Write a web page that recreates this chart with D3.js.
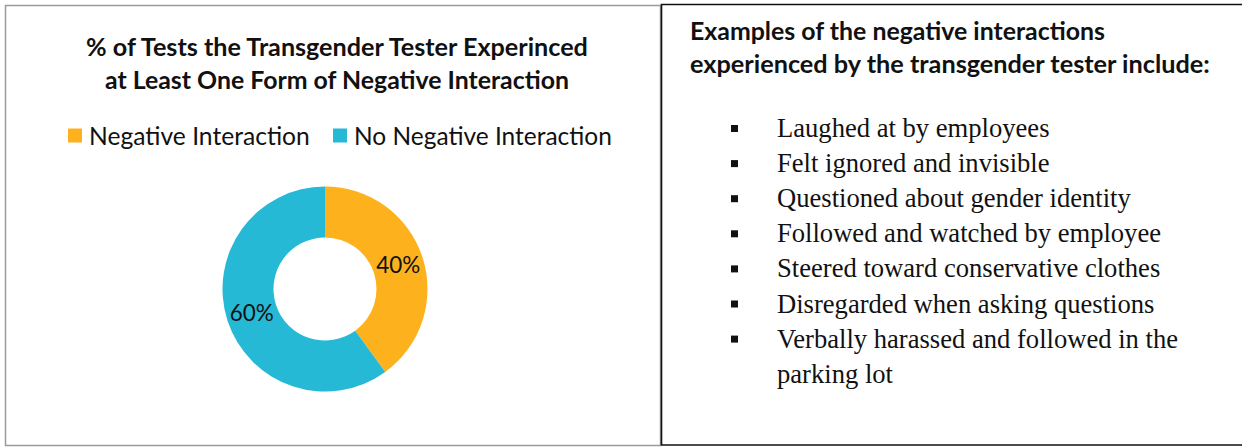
<!DOCTYPE html>
<html>
<head>
<meta charset="utf-8">
<script src="https://cdn.jsdelivr.net/npm/d3@7"></script>
<style>
  html, body { margin: 0; padding: 0; background: #fff; }
  svg { display: block; }
</style>
</head>
<body>
<svg id="chart"></svg>
<script>
// data
const chartTitle = ["% of Tests the Transgender Tester Experinced", "at Least One Form of Negative Interaction"];
const categories = ["Negative Interaction", "No Negative Interaction"];
const values = [40, 60];
const colors = ["#FDB21D", "#25B9D5"];
const listTitle = ["Examples of the negative interactions", "experienced by the transgender tester include:"];
const examples = [
    ["Laughed at by employees"],
    ["Felt ignored and invisible"],
    ["Questioned about gender identity"],
    ["Followed and watched by employee"],
    ["Steered toward conservative clothes"],
    ["Disregarded when asking questions"],
    ["Verbally harassed and followed in the", "parking lot"]
];

const width = 1242, height = 447;
const sans = "Lato, 'Open Sans', sans-serif";
const serif = "'Liberation Serif', 'DejaVu Serif', serif";

const svg = d3.select("#chart")
    .attr("width", width)
    .attr("height", height);

// scale font-size so the text spans the given width
function fit(text, target) {
    const w = text.node().getComputedTextLength();
    const fs = parseFloat(text.attr("font-size"));
    text.attr("font-size", (fs * target / w).toFixed(2));
    return text;
}

// panel frames
svg.append("rect")
    .attr("x", 5.5).attr("y", 5.5)
    .attr("width", 655).attr("height", 440)
    .attr("fill", "none")
    .attr("stroke", "#9a9a9a")
    .attr("stroke-width", 1.5);

svg.append("path")
    .attr("d", `M${width + 2},4.5 H661.5 V445 H${width + 2}`)
    .attr("fill", "none")
    .attr("stroke", "#111")
    .attr("stroke-width", 1.6);

// left: chart title
const titleG = svg.append("g").attr("font-family", sans).attr("font-weight", "bold").attr("fill", "#111");
const titleWidths = [502, 464];
chartTitle.forEach((t, i) => {
    const txt = titleG.append("text")
        .attr("x", 337)
        .attr("y", 56 + i * 33)
        .attr("text-anchor", "middle")
        .attr("font-size", 20)
        .text(t);
    fit(txt, titleWidths[i]);
});

// legend
const legendX = [68, 333];
const legendW = [221, 258];
const legend = svg.append("g").attr("font-family", sans).attr("fill", "#111");
categories.forEach((c, i) => {
    legend.append("rect")
        .attr("x", legendX[i]).attr("y", 128.5)
        .attr("width", 14).attr("height", 14)
        .attr("fill", colors[i]);
    const txt = legend.append("text")
        .attr("x", legendX[i] + 21)
        .attr("y", 145)
        .attr("font-size", 20)
        .text(c);
    fit(txt, legendW[i]);
});

// donut
const cx = 325, cy = 289;
const outerR = 102.5, innerR = 51.5;
const pie = d3.pie().sort(null).value(d => d)(values);
const arc = d3.arc().innerRadius(innerR).outerRadius(outerR);
const donut = svg.append("g").attr("transform", `translate(${cx},${cy})`);

donut.selectAll("path")
    .data(pie)
    .join("path")
    .attr("d", arc)
    .attr("fill", (d, i) => colors[i]);

donut.selectAll("text")
    .data(pie)
    .join("text")
    .attr("transform", d => `translate(${arc.centroid(d)})`)
    .attr("text-anchor", "middle")
    .attr("dy", "0.36em")
    .attr("font-family", sans)
    .attr("font-size", 22)
    .attr("fill", "#111")
    .text(d => d.data + "%")
    .each(function () { fit(d3.select(this), 44); });

// right: examples list
const listG = svg.append("g").attr("fill", "#111");
const listTitleW = [415, 520];
listTitle.forEach((t, i) => {
    const txt = listG.append("text")
        .attr("x", 690)
        .attr("y", 40 + i * 33)
        .attr("font-family", sans)
        .attr("font-weight", "bold")
        .attr("font-size", 20)
        .text(t);
    fit(txt, listTitleW[i]);
});

const lineH = 35.1;
let row = 0;
const serifSize = 26.6;
examples.forEach(lines => {
    const y0 = 137 + row * lineH;
    listG.append("rect")
        .attr("x", 731).attr("y", y0 - 12)
        .attr("width", 7).attr("height", 7)
        .attr("fill", "#111");
    lines.forEach(l => {
        listG.append("text")
            .attr("x", 777)
            .attr("y", 137 + row * lineH)
            .attr("font-family", serif)
            .attr("font-size", serifSize)
            .text(l);
        row++;
    });
});
</script>
</body>
</html>
